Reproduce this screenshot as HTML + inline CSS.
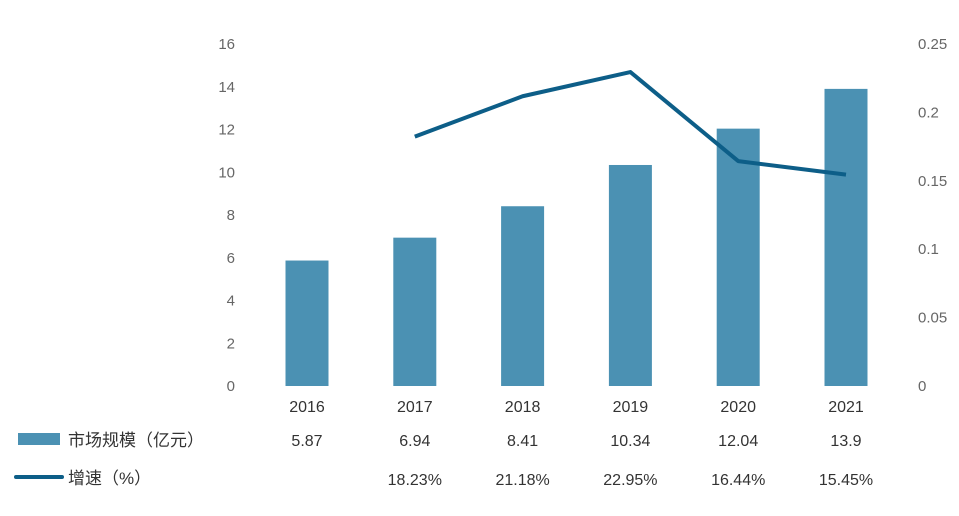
<!DOCTYPE html>
<html><head><meta charset="utf-8"><style>
body{margin:0;background:#fff;width:959px;height:511px;overflow:hidden}
svg text{font-family:"Liberation Sans","Noto Sans CJK SC",sans-serif}
</style></head><body>
<svg id="chart" width="959" height="511" xmlns="http://www.w3.org/2000/svg">
<g id="g"></g>
</svg>
<script>
const years=["2016","2017","2018","2019","2020","2021"];
const sizes=[5.87,6.94,8.41,10.34,12.04,13.9];
const sizeLabels=["5.87","6.94","8.41","10.34","12.04","13.9"];
const growth=[null,0.1823,0.2118,0.2295,0.1644,0.1545];
const growthLabels=["","18.23%","21.18%","22.95%","16.44%","15.45%"];
const leftTicks=[0,2,4,6,8,10,12,14,16];
const rightTicks=["0","0.05","0.1","0.15","0.2","0.25"];
const rightVals=[0,0.05,0.1,0.15,0.2,0.25];

const NS="http://www.w3.org/2000/svg";
const g=document.getElementById('g');
const y0=386,yTop=44;
const yL=v=>y0-v/16*(y0-yTop);
const yR=v=>y0-v/0.25*(y0-yTop);
const xC=i=>307+i*107.8;
function el(t,a,txt){const e=document.createElementNS(NS,t);for(const k in a)e.setAttribute(k,a[k]);if(txt!=null)e.textContent=txt;g.appendChild(e);return e;}

leftTicks.forEach(v=>{
 const e=el('text',{x:235,y:yL(v)+5,'text-anchor':'end','font-size':15,fill:'#666'},String(v));
 
 
});
rightVals.forEach((v,i)=>{
 const e=el('text',{x:918,y:yR(v)+5,'text-anchor':'start','font-size':15,fill:'#666'},rightTicks[i]);
 
 
});
sizes.forEach((v,i)=>{
 const b=el('rect',{x:xC(i)-21.5,y:yL(v),width:43,height:y0-yL(v),fill:'#4b91b3'});
 
 
 const t=el('text',{x:xC(i),y:412,'text-anchor':'middle','font-size':16,fill:'#333'},years[i]);
 
 
 const s=el('text',{x:xC(i),y:446,'text-anchor':'middle','font-size':16,fill:'#333'},sizeLabels[i]);
 
 
 const p=el('text',{x:xC(i),y:485,'text-anchor':'middle','font-size':16,fill:'#333'},growthLabels[i]);
 
 
});
let pts=[];
growth.forEach((v,i)=>{if(v!=null)pts.push(xC(i)+','+yR(v));});
const ln=el('polyline',{points:pts.join(' '),fill:'none',stroke:'#0d5e88','stroke-width':4,'stroke-linejoin':'round'});



const lr=el('rect',{x:18,y:433,width:42,height:12,fill:'#4b91b3'});


const lt=el('text',{x:68,y:446,'font-size':17,fill:'#333'},'市场规模（亿元）');


const ll=el('line',{x1:16,y1:477,x2:62,y2:477,stroke:'#0d5e88','stroke-width':4,'stroke-linecap':'round'});


const lt2=el('text',{x:68,y:484,'font-size':17,fill:'#333'},'增速（%）');


</script>
</body></html>
